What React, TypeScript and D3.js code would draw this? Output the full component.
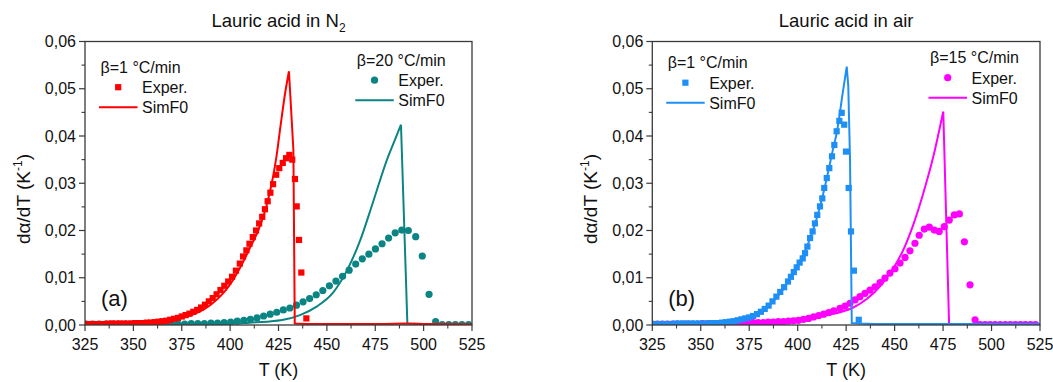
import React from "react";
import * as d3 from "d3";

type Pt = [number, number];

const X_TICKS = [325, 350, 375, 400, 425, 450, 475, 500, 525];
const X_TICK_LABELS = ["325", "350", "375", "400", "425", "450", "475", "500", "525"];
const Y_TICKS = [0, 0.01, 0.02, 0.03, 0.04, 0.05, 0.06];
const Y_TICK_LABELS = ["0,00", "0,01", "0,02", "0,03", "0,04", "0,05", "0,06"];

// (a) Lauric acid in N2, beta = 1 °C/min
const N2_B1_EXPER: Pt[] = [
  [325, 0.0002], [327, 0.0002], [329, 0.0002], [331, 0.0002], [333, 0.0002], [335, 0.0002],
  [337, 0.0003], [339, 0.0003], [341, 0.0003], [343, 0.0003], [345, 0.0003], [347, 0.0003], [349, 0.0003],
  [351, 0.0004], [353, 0.0004], [355, 0.0004], [357, 0.0005], [359, 0.0005], [361, 0.0006], [363, 0.0007],
  [365, 0.0008], [367, 0.0009], [369, 0.0011], [371, 0.0013], [373, 0.0015], [375, 0.0018], [377, 0.0021],
  [379, 0.0024], [381, 0.0028], [383, 0.0032], [385, 0.0037], [387, 0.0043], [389, 0.005], [391, 0.0057],
  [393, 0.0065], [395, 0.0074], [397, 0.0083], [399, 0.0092], [401, 0.0102], [403, 0.0115], [405, 0.013],
  [406.7, 0.0145], [408.4, 0.0158], [410, 0.0172], [411.7, 0.0186], [413.4, 0.02], [415, 0.0215],
  [416.6, 0.0229], [418, 0.0245], [419.4, 0.0262], [420.8, 0.028], [422.2, 0.0298], [423.8, 0.0318],
  [425.4, 0.0332], [427.2, 0.0343], [428.9, 0.0353], [430.6, 0.036], [432.1, 0.035], [433.5, 0.0309],
  [434.4, 0.0251], [435.6, 0.018], [436.8, 0.0111], [439.4, 0.0014],
];
const N2_B1_SIMF0: Pt[] = [
  [325, 0.0001], [340, 0.0002], [350, 0.0003], [360, 0.0005], [370, 0.001], [380, 0.0021], [385, 0.003],
  [390, 0.0043], [395, 0.0061], [400, 0.0086], [405, 0.012], [410, 0.0161], [415, 0.0205], [419, 0.0255],
  [422, 0.031], [424, 0.0358], [426, 0.042], [428.4, 0.049], [430.4, 0.0537], [432.7, 0.037], [433.4, 0.0003],
  [440, 0.0002], [460, 0.0002], [480, 0.0002], [490, 0.0003], [500, 0.0002], [525, 0.0001],
];

// (a) Lauric acid in N2, beta = 20 °C/min
const N2_B20_EXPER: Pt[] = [
  [325.5, 0.0002], [328.9, 0.0002], [332.3, 0.0002], [335.7, 0.0002], [339.1, 0.0002], [342.5, 0.0002],
  [345.9, 0.0002], [349.3, 0.0002], [352.7, 0.0002], [356.1, 0.0002], [359.5, 0.0002], [362.9, 0.0002],
  [366.3, 0.0002], [369.7, 0.0002], [373.1, 0.0002], [376.5, 0.0002], [379.9, 0.0003], [383.3, 0.0003],
  [386.7, 0.0003], [390.1, 0.0004], [393.5, 0.0004], [396.9, 0.0005], [400.3, 0.0006], [403.7, 0.0008],
  [407.1, 0.001], [410.5, 0.0012], [413.9, 0.0015], [417.3, 0.0019], [420.7, 0.0023], [424.1, 0.0027],
  [427.5, 0.0032], [430.9, 0.0036], [434.3, 0.0042], [437.7, 0.0049], [441.1, 0.0056], [444.5, 0.0064],
  [447.9, 0.0073], [451.3, 0.0083], [454.7, 0.0093], [458.1, 0.0103], [461.5, 0.0116], [464.9, 0.0129],
  [468.3, 0.014], [471.7, 0.015], [475.1, 0.0161], [478.5, 0.0172], [481.9, 0.0184], [485.3, 0.0195],
  [488.7, 0.0201], [492.1, 0.02], [495.9, 0.0187], [499.3, 0.0146], [502.8, 0.0065], [506.2, 0.0007],
  [509.6, 0.0001], [513, 0.0001], [516.4, 0.0001], [519.8, 0.0001], [523.2, 0.0001],
];
const N2_B20_SIMF0: Pt[] = [
  [325, 0.0001], [360, 0.0001], [380, 0.0002], [401.7, 0.0003], [410, 0.0005], [418.9, 0.0007],
  [427.5, 0.0011], [436.1, 0.0021], [444.7, 0.0039], [453.3, 0.0069], [460.2, 0.0114], [467.1, 0.0178],
  [474, 0.0262], [480.9, 0.0348], [485, 0.039], [488.3, 0.0424], [491.6, 0.0003], [500, 0.0002], [525, 0.0002],
];

// (b) Lauric acid in air, beta = 1 °C/min
const AIR_B1_EXPER: Pt[] = [
  [325, 0.0002], [327, 0.0002], [329, 0.0002], [331, 0.0002], [333, 0.0002], [335, 0.0002],
  [337, 0.0003], [339, 0.0003], [341, 0.0003], [343, 0.0003], [345, 0.0003], [347, 0.0003], [349, 0.0003],
  [351, 0.0003], [353, 0.0003], [355, 0.0004], [357, 0.0004], [359, 0.0004], [361, 0.0005], [363, 0.0006],
  [365, 0.0007], [367, 0.0008], [369, 0.001], [371, 0.0012], [373, 0.0014], [375, 0.0016], [377, 0.0019],
  [379, 0.0023], [381, 0.0028], [383, 0.0034], [385, 0.0041], [387, 0.005], [389, 0.006], [391, 0.007],
  [393, 0.008], [395, 0.0092], [396.5, 0.0102], [398, 0.0112], [399.5, 0.0122], [401, 0.0132],
  [402.6, 0.0141], [403.8, 0.0152], [405, 0.0166], [406.4, 0.0184], [407.7, 0.0198], [408.9, 0.0215],
  [410.1, 0.0233], [411.5, 0.0251], [412.7, 0.0268], [413.7, 0.029], [415, 0.0311], [416.3, 0.0332],
  [417.7, 0.0357], [418.9, 0.0381], [420.1, 0.041], [421.5, 0.0432], [422.7, 0.0449], [424, 0.0424],
  [424.9, 0.0367], [426.3, 0.029], [427.5, 0.0198], [429, 0.0115], [431.5, 0.0011],
];
const AIR_B1_SIMF0: Pt[] = [
  [325, 0.0002], [340, 0.0002], [350, 0.0003], [360, 0.0004], [365, 0.0006], [370, 0.0009], [375, 0.0015],
  [380, 0.0025], [385, 0.004], [390, 0.0062], [395, 0.0091], [400, 0.0127], [405, 0.0168], [410, 0.0228],
  [415, 0.031], [418, 0.0368], [420.3, 0.041], [423.2, 0.049], [425.3, 0.0547], [426.1, 0.0505],
  [427, 0.035], [427.9, 0.0004], [432, 0.0003], [440, 0.0002], [525, 0.0002],
];

// (b) Lauric acid in air, beta = 15 °C/min
const AIR_B15_EXPER: Pt[] = [
  [325, 0.0002], [327.6, 0.0002], [330.2, 0.0002], [332.8, 0.0002], [335.4, 0.0002], [338, 0.0002],
  [340.6, 0.0002], [343.2, 0.0002], [345.8, 0.0002], [348.4, 0.0002], [351, 0.0003], [353.6, 0.0003],
  [356.2, 0.0003], [358.8, 0.0003], [361.4, 0.0003], [364, 0.0003], [366.6, 0.0004], [369.2, 0.0004],
  [371.8, 0.0004], [374.4, 0.0004], [377, 0.0005], [379.6, 0.0005], [382.2, 0.0005], [384.8, 0.0006],
  [387.4, 0.0006], [390, 0.0007], [392.6, 0.0007], [395.2, 0.0008], [397.8, 0.0009], [400.4, 0.001],
  [403, 0.0012], [405.6, 0.0014], [408.2, 0.0017], [410.8, 0.002], [413.4, 0.0023], [416, 0.0026],
  [418.6, 0.003], [421.8, 0.0035], [424.4, 0.004], [427, 0.0046], [429.6, 0.0053], [432.1, 0.006],
  [434.7, 0.0067], [437.3, 0.0074], [439.9, 0.0081], [442.5, 0.009], [445, 0.0099], [447.6, 0.011],
  [450.2, 0.0119], [452.8, 0.0131], [455.4, 0.0143], [457.9, 0.0157], [460.5, 0.0173], [462.7, 0.019],
  [465.3, 0.0203], [467.9, 0.0207], [470.5, 0.0201], [473, 0.0198], [475.6, 0.0208], [478.2, 0.0222],
  [480.8, 0.0233], [483.4, 0.0235], [486, 0.0176], [488.9, 0.0085], [491.5, 0.0011], [494.1, 0.0001],
  [496.7, 0.0001], [499.3, 0.0001], [501.9, 0.0001], [504.5, 0.0001], [507.1, 0.0001], [509.7, 0.0001],
  [512.3, 0.0001], [514.9, 0.0001], [517.5, 0.0001], [520.1, 0.0001], [522.7, 0.0001],
];
const AIR_B15_SIMF0: Pt[] = [
  [325, 0.0002], [350, 0.0003], [370, 0.0005], [390, 0.0009], [400, 0.0013], [410, 0.0018], [421.8, 0.0027],
  [428.7, 0.0037], [435.6, 0.0055], [442.5, 0.0082], [449.3, 0.012], [454.5, 0.0159], [459.6, 0.0212],
  [464.8, 0.0279], [470, 0.0357], [475.1, 0.0452], [478.1, 0.0002], [490, 0.0002], [525, 0.0002],
];

const RED = "#ff0000";
const TEAL = "#0b8583";
const BLUE = "#1e8ff5";
const MAGENTA = "#ff00ff";
const AXIS = "#3a3a3a";
const FONT = "'Liberation Sans', Arial, Helvetica, sans-serif";

type Series = { exper: Pt[]; sim: Pt[]; color: string; shape: "square" | "circle" };
type Legend = { x: number; y: number; header: string; color: string; shape: "square" | "circle" };

function Marker({ cx, cy, color, shape }: { cx: number; cy: number; color: string; shape: string }) {
  if (shape === "square") return <rect x={cx - 3.1} y={cy - 3.1} width={6.2} height={6.2} fill={color} />;
  return <circle cx={cx} cy={cy} r={3.6} fill={color} />;
}

function Panel(props: {
  id: string; x0: number; x1: number; title: React.ReactNode; tag: string;
  series: Series[]; legends: Legend[];
}) {
  const { id, x0, x1, title, tag, series, legends } = props;
  const yTop = 41.5, yBot = 325;
  const x = d3.scaleLinear().domain([325, 525]).range([x0, x1]);
  const y = d3.scaleLinear().domain([0, 0.06]).range([yBot, yTop]);
  const smooth = d3.line<Pt>().x((d) => x(d[0])).y((d) => y(d[1])).curve(d3.curveMonotoneX);
  const straight = d3.line<Pt>().x((d) => x(d[0])).y((d) => y(d[1]));
  const simPath = (pts: Pt[]) => {
    const peak = d3.maxIndex(pts, (d) => d[1]);
    return (smooth(pts.slice(0, peak + 1)) || "") + (straight(pts.slice(peak)) || "");
  };
  const xMinor = d3.range(337.5, 525, 25);
  const yMinor = d3.range(0.005, 0.06, 0.01);
  const cx = (x0 + x1) / 2;
  return (
    <g fontFamily={FONT}>
      <defs>
        <clipPath id={id}>
          <rect x={x0} y={yTop - 10} width={x1 - x0} height={yBot - yTop + 10} />
        </clipPath>
      </defs>
      <text x={cx} y={27} fontSize={18.5} textAnchor="middle" fill="#111">{title}</text>
      <g clipPath={`url(#${id})`}>
        {series.map((s, i) => (
          <g key={i}>
            {s.exper.map((d, j) => (
              <Marker key={j} cx={x(d[0])} cy={y(d[1])} color={s.color} shape={s.shape} />
            ))}
            <path d={simPath(s.sim)} fill="none" stroke={s.color} strokeWidth={2} strokeLinejoin="miter" />
          </g>
        ))}
      </g>
      <rect x={x0} y={yTop} width={x1 - x0} height={yBot - yTop} fill="none" stroke={AXIS} strokeWidth={1.3} />
      {X_TICKS.map((t, i) => (
        <g key={t}>
          <line x1={x(t)} x2={x(t)} y1={yBot} y2={yBot + 6} stroke={AXIS} strokeWidth={1.2} />
          <text x={x(t)} y={yBot + 25} fontSize={16} textAnchor="middle" fill="#111">{X_TICK_LABELS[i]}</text>
        </g>
      ))}
      {xMinor.map((t) => (
        <line key={t} x1={x(t)} x2={x(t)} y1={yBot} y2={yBot + 3.5} stroke={AXIS} strokeWidth={1.1} />
      ))}
      {Y_TICKS.map((t, i) => (
        <g key={t}>
          <line x1={x0 - 6} x2={x0} y1={y(t)} y2={y(t)} stroke={AXIS} strokeWidth={1.2} />
          <text x={x0 - 9} y={y(t) + 5.6} fontSize={16} textAnchor="end" fill="#111">{Y_TICK_LABELS[i]}</text>
        </g>
      ))}
      {yMinor.map((t) => (
        <line key={t} x1={x0 - 3.5} x2={x0} y1={y(t)} y2={y(t)} stroke={AXIS} strokeWidth={1.1} />
      ))}
      <text x={cx} y={376} fontSize={18} textAnchor="middle" fill="#111">T (K)</text>
      <text transform={`translate(${x0 - 55},199) rotate(-90)`} fontSize={19} textAnchor="middle" fill="#111">
        dα/dT (K<tspan fontSize={12} dy={-8}>-1</tspan><tspan dy={8}>)</tspan>
      </text>
      <text x={x0 + 16} y={306} fontSize={22} fill="#111">{tag}</text>
      {legends.map((l, i) => (
        <g key={i} fontSize={16} fill="#111">
          <text x={l.x} y={l.y}>{l.header}</text>
          <Marker cx={l.x + 17.7} cy={l.y + 14.7} color={l.color} shape={l.shape} />
          <text x={l.x + 41.5} y={l.y + 20.5}>Exper.</text>
          <line x1={l.x - 1.5} x2={l.x + 37} y1={l.y + 34.8} y2={l.y + 34.8} stroke={l.color} strokeWidth={2} />
          <text x={l.x + 41.5} y={l.y + 40.5}>SimF0</text>
        </g>
      ))}
    </g>
  );
}

export default function App() {
  return (
    <svg
      width={1053}
      height={382}
      viewBox="0 0 1053 382"
      style={{ position: "absolute", left: 0, top: 0, background: "#fff" }}
    >
      <rect x={0} y={0} width={1053} height={382} fill="#fff" />
      <Panel
        id="clipA"
        x0={85}
        x1={472}
        title={<>Lauric acid in N<tspan fontSize={12} dy={5}>2</tspan></>}
        tag="(a)"
        series={[
          { exper: N2_B20_EXPER, sim: N2_B20_SIMF0, color: TEAL, shape: "circle" },
          { exper: N2_B1_EXPER, sim: N2_B1_SIMF0, color: RED, shape: "square" },
        ]}
        legends={[
          { x: 100.5, y: 72.5, header: "β=1 °C/min", color: RED, shape: "square" },
          { x: 356.8, y: 65.5, header: "β=20 °C/min", color: TEAL, shape: "circle" },
        ]}
      />
      <Panel
        id="clipB"
        x0={652.3}
        x1={1040}
        title="Lauric acid in air"
        tag="(b)"
        series={[
          { exper: AIR_B15_EXPER, sim: AIR_B15_SIMF0, color: MAGENTA, shape: "circle" },
          { exper: AIR_B1_EXPER, sim: AIR_B1_SIMF0, color: BLUE, shape: "square" },
        ]}
        legends={[
          { x: 667.7, y: 68, header: "β=1 °C/min", color: BLUE, shape: "square" },
          { x: 930, y: 63, header: "β=15 °C/min", color: MAGENTA, shape: "circle" },
        ]}
      />
    </svg>
  );
}
